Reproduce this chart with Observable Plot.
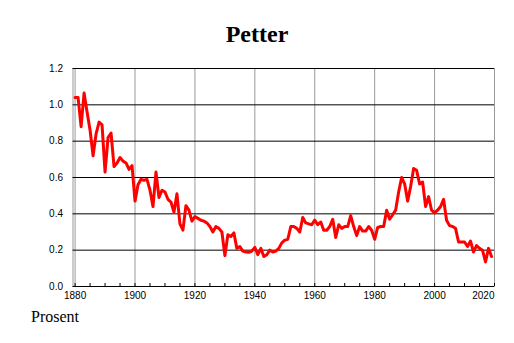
<!DOCTYPE html>
<html><head><meta charset="utf-8">
<script src="https://cdn.jsdelivr.net/npm/d3@7"></script>
<script src="https://cdn.jsdelivr.net/npm/@observablehq/plot@0.6"></script>
<style>
body{margin:0;background:#fff;}
#wrap{position:relative;width:514px;height:343px;overflow:hidden;}
#chart{position:absolute;left:0;top:0;}
#title{position:absolute;left:0;width:514px;top:22px;text-align:center;font:bold 24px/1 "Liberation Serif","Times New Roman",serif;color:#000;}
#cap{position:absolute;left:31px;top:309px;font:16px/1 "Liberation Serif","Times New Roman",serif;color:#000;}
</style></head><body>
<div id="wrap"><div id="chart"></div><div id="title">Petter</div><div id="cap">Prosent</div></div>
<script>
const startYear = 1880;
const values = [
 1.04,1.04,0.88,1.065,0.96,0.86,0.72,0.84,0.905,0.89,
 0.63,0.82,0.845,0.66,0.68,0.71,0.69,0.68,0.645,0.665,
 0.47,0.56,0.59,0.585,0.59,0.53,0.44,0.63,0.49,0.53,
 0.52,0.48,0.465,0.41,0.51,0.345,0.31,0.445,0.42,0.36,
 0.385,0.375,0.365,0.36,0.35,0.33,0.30,0.33,0.32,0.30,
 0.17,0.285,0.275,0.295,0.21,0.22,0.195,0.19,0.188,0.195,
 0.215,0.175,0.21,0.165,0.175,0.20,0.19,0.195,0.21,0.24,
 0.255,0.26,0.33,0.33,0.32,0.30,0.38,0.35,0.345,0.34,
 0.365,0.34,0.355,0.31,0.31,0.33,0.37,0.27,0.34,0.32,
 0.33,0.33,0.39,0.33,0.28,0.33,0.305,0.305,0.33,0.31,
 0.26,0.325,0.33,0.33,0.42,0.37,0.395,0.42,0.52,0.60,
 0.565,0.47,0.55,0.65,0.64,0.565,0.575,0.44,0.495,0.42,
 0.405,0.42,0.44,0.48,0.365,0.335,0.33,0.32,0.245,0.245,
 0.245,0.22,0.25,0.19,0.225,0.21,0.20,0.135,0.21,0.165
];
const yTicks = [0, 0.2, 0.4, 0.6, 0.8, 1.0, 1.2];
const xTicks = [1880, 1900, 1920, 1940, 1960, 1980, 2000, 2020];
const minorTicks = [1880,1885,1890,1895,1900,1905,1910,1915,1920,1925,1930,1935,1940,1945,1950,1955,1960,1965,1970,1975,1980,1985,1990,1995,2000,2005,2010,2015,2020];
const xDomain = [1879.3, 2020];
const yDomain = [0, 1.2];

const data = values.map((v, i) => ({year: startYear + i, value: v}));

const chart = Plot.plot({
  width: 514,
  height: 343,
  marginLeft: 72.5,
  marginRight: 20,
  marginTop: 68,
  marginBottom: 57,
  x: {domain: xDomain},
  y: {domain: yDomain},
  style: {fontFamily: "'Liberation Sans', Arial, Helvetica, sans-serif", fontSize: "10px", background: "white", color: "black"},
  marks: [
    Plot.frame({stroke: "#999"}),
    Plot.ruleX(xTicks, {stroke: "#999", strokeWidth: 1}),
    Plot.ruleY(yTicks, {stroke: "#000", strokeWidth: 1}),
    Plot.ruleX(minorTicks, {y1: 0, y2: 0, insetBottom: 3, stroke: "#000"}),
    Plot.line(data, {x: "year", y: "value", stroke: "#ff0000", strokeWidth: 3, strokeLinejoin: "round"}),
    Plot.axisY(yTicks, {tickSize: 0, tickPadding: 10, tickFormat: d => d.toFixed(1), label: null}),
    Plot.axisX(xTicks.slice(0, -1), {tickSize: 0, tickPadding: 5, tickFormat: d => String(d), label: null}),
    Plot.axisX(xTicks.slice(-1), {tickSize: 0, tickPadding: 5, textAnchor: "end", tickFormat: d => String(d), label: null})
  ]
});
document.getElementById("chart").appendChild(chart);
</script>
</body></html>
